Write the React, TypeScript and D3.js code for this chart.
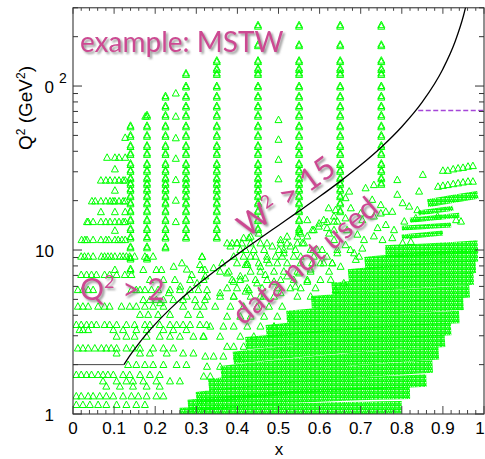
import React from 'react';
import * as d3 from 'd3';

const WIDTH = 485;
const HEIGHT = 459;

// ---- axes ----
const xTickValues = [0, 0.1, 0.2, 0.3, 0.4, 0.5, 0.6, 0.7, 0.8, 0.9, 1];
const xTickLabels = ['0', '0.1', '0.2', '0.3', '0.4', '0.5', '0.6', '0.7', '0.8', '0.9', '1'];
const yMajorTicks = [1, 10, 100];
const yTickLabels = ['1', '10', '0'];
const yTickSup = ['', '', '2'];

// ---- W^2 = 15 cut curve (x, Q^2) ----
const cutX = [0.124, 0.14, 0.16, 0.18, 0.2, 0.25, 0.3, 0.35, 0.4, 0.45, 0.5, 0.55, 0.6, 0.65, 0.7, 0.75, 0.8, 0.85, 0.9, 0.93, 0.95, 0.96];
const cutQ2 = [2.0, 2.3, 2.69, 3.1, 3.53, 4.71, 6.05, 7.6, 9.41, 11.55, 14.12, 17.26, 21.18, 26.22, 32.95, 42.36, 56.48, 80.0, 127.1, 187.6, 268.3, 338.9];
// Q^2 = 2 cut
const q2CutLineX = [0, 0.124];
const q2CutValue = 2;
// purple dashed line
const dashX = [0.84, 1.0];
const dashQ2 = 71;

// ---- fixed-x columns (BCDMS-like) ----
const colX = [0.14, 0.18, 0.225, 0.275, 0.35, 0.45, 0.55, 0.65, 0.75];
const colQmin = [7.5, 8.75, 10.25, 11.75, 11.75, 13.25, 13.25, 17, 25];
const colQmax = [57, 65, 86, 117, 140, 230, 230, 230, 230];
const colQ2Levels = [7.5, 8.75, 10.25, 11.75, 13.25, 15, 17, 19, 21, 23, 25, 27, 30, 33, 38, 42.5, 49, 56, 65, 74, 85, 98, 117, 125, 140, 175, 230];

// sparse columns
const sparse25X = 0.25;
const sparse25Q2 = [90, 65, 48, 36, 26.7, 20, 14.8];
const sparse50X = 0.5;
const sparse50Q2 = [62, 47, 35.5, 27];

// ---- rows of points at fixed Q^2 (low x) ----
const rows: { q: number; xs: number[] }[] = [
  { q: 65, xs: [0.176] },
  { q: 48.3, xs: [0.127] },
  { q: 36.5, xs: [0.083, 0.102, 0.112, 0.127] },
  { q: 31, xs: [0.102] },
  { q: 26.5, xs: [0.068, 0.08, 0.09, 0.102, 0.112, 0.122, 0.127] },
  { q: 23, xs: [0.102] },
  { q: 19.8, xs: [0.046, 0.054, 0.068, 0.08, 0.09, 0.097, 0.102, 0.112, 0.122, 0.127] },
  { q: 17, xs: [0.068, 0.102, 0.127] },
  { q: 14.8, xs: [0.034, 0.037, 0.049, 0.068, 0.08, 0.09, 0.102, 0.112, 0.122, 0.127] },
  { q: 13.1, xs: [0.102] },
  { q: 11.5, xs: [0.021, 0.029, 0.034, 0.049, 0.068, 0.08, 0.087, 0.102, 0.11, 0.119, 0.127] },
  { q: 9.1, xs: [0.02, 0.028, 0.037, 0.049, 0.069, 0.077, 0.085, 0.093, 0.102, 0.114, 0.122, 0.13, 0.138, 0.15, 0.175, 0.195] },
  { q: 8.1, xs: [0.309] },
  { q: 7.55, xs: [0.102, 0.171, 0.203, 0.215, 0.313, 0.321] },
  { q: 7.04, xs: [0.02, 0.033, 0.045, 0.057, 0.077, 0.089, 0.106, 0.126, 0.142] },
  { q: 6.56, xs: [0.187, 0.22, 0.248, 0.285] },
  { q: 5.7, xs: [0.012, 0.024, 0.037, 0.049, 0.142, 0.154, 0.163, 0.175, 0.191, 0.207, 0.236, 0.26, 0.285, 0.305] },
  { q: 4.95, xs: [0.171, 0.187, 0.203, 0.22, 0.244, 0.268, 0.297, 0.321] },
  { q: 4.51, xs: [0.012, 0.024, 0.037, 0.061, 0.077, 0.089, 0.118, 0.138, 0.154, 0.175, 0.195, 0.22, 0.268, 0.301] },
  { q: 4.02, xs: [0.163, 0.183, 0.207, 0.236, 0.28, 0.309] },
  { q: 3.49, xs: [0.008, 0.02, 0.033, 0.045, 0.057, 0.077, 0.089, 0.106, 0.13, 0.15, 0.175, 0.187, 0.211, 0.236, 0.252, 0.268, 0.285, 0.309, 0.325] },
  { q: 3.25, xs: [0.016, 0.024, 0.037, 0.098, 0.122, 0.154, 0.179, 0.22, 0.244, 0.276] },
  { q: 2.96, xs: [0.106, 0.13, 0.15, 0.179, 0.211, 0.236, 0.26, 0.293, 0.317] },
  { q: 2.51, xs: [0.012, 0.024, 0.037, 0.053, 0.069, 0.081, 0.093, 0.106, 0.13, 0.146, 0.163, 0.195, 0.22, 0.244] },
  { q: 2.34, xs: [0.106, 0.163, 0.187, 0.228, 0.268, 0.293] },
  { q: 1.99, xs: [0.134, 0.154, 0.175, 0.195, 0.22, 0.252, 0.276] },
  { q: 1.73, xs: [0.008, 0.02, 0.033, 0.045, 0.061, 0.073, 0.085, 0.098, 0.122, 0.138, 0.163, 0.187, 0.211] },
  { q: 1.58, xs: [0.073, 0.106, 0.13, 0.146, 0.171, 0.203, 0.236, 0.26] },
  { q: 1.47, xs: [0.081, 0.114, 0.146, 0.179, 0.211] },
  { q: 1.28, xs: [0.008, 0.02, 0.037, 0.049, 0.065, 0.081, 0.098, 0.122, 0.142, 0.159, 0.179, 0.203, 0.22] },
  { q: 1.135, xs: [0.008, 0.024, 0.041, 0.061, 0.081, 0.106, 0.13, 0.154, 0.175] },
];

// ---- mid-x cloud rows ----
const cloudRows: { q: number; xs: number[] }[] = [
  { q: 10.98, xs: [0.375, 0.387, 0.399, 0.411, 0.432, 0.456, 0.472, 0.505, 0.521, 0.546, 0.562] },
  { q: 10.0, xs: [0.407, 0.42, 0.44, 0.465, 0.501, 0.513, 0.541, 0.578, 0.594] },
  { q: 9.11, xs: [0.314, 0.391, 0.415, 0.444, 0.472, 0.493, 0.509, 0.554, 0.586, 0.618] },
  { q: 8.3, xs: [0.399, 0.424, 0.452, 0.477, 0.521, 0.554, 0.582, 0.61, 0.631] },
  { q: 7.38, xs: [0.358, 0.379, 0.432, 0.456, 0.489, 0.513, 0.546, 0.578, 0.623] },
  { q: 6.56, xs: [0.318, 0.387, 0.407, 0.444, 0.472, 0.505, 0.537, 0.57, 0.602] },
  { q: 5.84, xs: [0.375, 0.399, 0.424, 0.46, 0.497, 0.529, 0.554, 0.59] },
  { q: 5.19, xs: [0.326, 0.358, 0.391, 0.432, 0.456, 0.489, 0.546, 0.578] },
  { q: 4.51, xs: [0.318, 0.346, 0.383, 0.415, 0.448, 0.477, 0.509] },
  { q: 3.92, xs: [0.375, 0.407, 0.432, 0.465, 0.497, 0.529] },
  { q: 3.41, xs: [0.334, 0.366, 0.391, 0.424, 0.456, 0.489] },
  { q: 2.96, xs: [0.318, 0.358, 0.407, 0.44] },
  { q: 2.57, xs: [0.375, 0.391, 0.415] },
  { q: 2.24, xs: [0.322, 0.342, 0.366, 0.399] },
  { q: 1.94, xs: [0.326, 0.358] },
  { q: 1.69, xs: [0.318, 0.334] },
];

// ---- scattered points ----
const scatterPoints: [number, number][] = [
  [0.314, 9.05], [0.245, 7.9], [0.265, 8.3], [0.277, 7.6], [0.289, 7.04], [0.302, 6.26], [0.322, 6.9], [0.342, 7.75],
  [0.363, 8.3], [0.375, 7.2], [0.391, 6.4], [0.407, 6.9], [0.42, 8.1], [0.383, 10.5], [0.399, 11.0], [0.428, 11.8],
  [0.326, 5.7], [0.358, 5.45], [0.391, 5.2], [0.42, 5.58], [0.261, 5.98], [0.277, 5.2], [0.212, 4.74], [0.233, 5.45],
  [0.851, 28.7], [0.789, 26.7], [0.732, 24.9], [0.712, 23.8], [0.842, 22.7], [0.789, 21.7], [0.672, 22.7], [0.663, 20.7],
  [0.728, 20.2], [0.749, 18.8], [0.761, 17.1], [0.802, 19.3], [0.818, 18.4], [0.838, 17.5], [0.639, 17.5], [0.676, 17.96],
  [0.7, 16.7], [0.635, 14.9], [0.663, 15.6], [0.704, 15.2], [0.732, 16.0], [0.749, 16.7], [0.777, 17.1], [0.761, 14.2],
  [0.741, 13.6], [0.781, 13.2], [0.806, 14.9], [0.834, 15.6], [0.887, 16.0], [0.932, 15.2], [0.944, 14.9], [0.732, 12.1],
  [0.708, 11.5], [0.753, 11.5], [0.777, 11.8], [0.802, 11.0], [0.822, 11.2], [0.643, 10.0], [0.663, 10.7], [0.684, 9.55],
  [0.704, 10.2], [0.631, 8.3], [0.651, 7.9], [0.688, 8.7], [0.627, 6.57], [0.659, 6.26], [0.639, 5.7],
  [0.622, 17.96], [0.61, 15.2], [0.635, 16.0], [0.598, 13.9], [0.582, 13.2], [0.618, 13.6], [0.643, 14.9], [0.57, 12.1],
  [0.55, 12.9], [0.558, 11.0], [0.529, 10.5], [0.505, 11.5], [0.485, 10.5], [0.513, 9.55], [0.537, 9.1], [0.497, 8.3],
  [0.472, 8.7], [0.456, 7.9], [0.432, 9.1], [0.424, 8.1], [0.468, 7.04], [0.448, 6.26], [0.419, 6.7], [0.489, 6.4],
  [0.521, 6.9], [0.55, 7.2], [0.428, 5.7], [0.464, 5.2], [0.505, 5.45], [0.541, 5.98], [0.57, 6.4], [0.578, 7.6],
  [0.602, 8.3], [0.606, 10.0], [0.635, 11.5], [0.667, 13.2], [0.692, 12.4], [0.675, 10.0], [0.696, 9.1], [0.643, 9.55],
  [0.57, 15.2], [0.586, 13.2], [0.599, 14.5], [0.618, 14.8], [0.623, 12.6], [0.635, 13.2], [0.554, 12.6], [0.546, 12.05],
  [0.521, 12.05], [0.432, 12.05], [0.415, 11.8], [0.452, 12.6],
];

// discrete high-x rows
const rowA: [number, number][] = [[0.9, 30.4], [0.912, 30.4], [0.925, 31.0], [0.937, 31.4], [0.949, 31.7], [0.961, 32.2], [0.973, 32.5]];
const rowB: [number, number][] = [[0.888, 24.3], [0.9, 24.6], [0.912, 24.9], [0.925, 25.2], [0.937, 25.5], [0.949, 25.8], [0.961, 26.1], [0.973, 26.1]];

// ---- dense kinematic scans (not used), as (x, Q^2) polylines ----
const denseBands: [number, number][][] = [
  [[0.26, 1.0], [0.5, 1.06], [0.8, 1.1]],
  [[0.28, 1.12], [0.55, 1.28], [0.82, 1.35]],
  [[0.3, 1.25], [0.55, 1.45], [0.86, 1.6]],
  [[0.33, 1.5], [0.6, 1.75], [0.875, 1.95]],
  [[0.36, 1.8], [0.62, 2.1], [0.89, 2.35]],
  [[0.39, 2.2], [0.65, 2.55], [0.905, 2.8]],
  [[0.42, 2.7], [0.68, 3.05], [0.92, 3.3]],
  [[0.47, 3.2], [0.7, 3.6], [0.94, 3.9]],
  [[0.52, 3.9], [0.74, 4.35], [0.95, 4.7]],
  [[0.58, 4.8], [0.77, 5.2], [0.965, 5.6]],
  [[0.63, 5.8], [0.8, 6.3], [0.975, 6.7]],
  [[0.67, 7.0], [0.82, 7.5], [0.98, 7.9]],
  [[0.71, 8.3], [0.85, 8.9], [0.985, 9.3]],
  [[0.76, 9.8], [0.88, 10.1], [0.985, 10.5]],
  [[0.863, 19.3], [0.93, 20.6], [0.985, 21.7]],
];
const thinBands: [number, number][][] = [
  [[0.8, 12.0], [0.9, 12.7]],
  [[0.8, 13.6], [0.92, 14.2]],
  [[0.82, 15.2], [0.94, 16.3]],
  [[0.84, 16.8], [0.925, 18.0]],
];

const x = d3.scaleLinear().domain([0, 1]).range([73, 484]);
const y = d3.scaleLog().domain([1, 300]).range([414, 7.8]);

const GREEN = '#00ff00';
const PINK = '#cc4a92';

function tri(px: number, py: number) {
  return `M${px.toFixed(1)},${(py - 4).toFixed(1)}l3.5,6.5h-7z`;
}

export default function App() {
  const pts: [number, number][] = [];
  rows.forEach((r) => r.xs.forEach((v) => pts.push([v, r.q])));
  cloudRows.forEach((r) => r.xs.forEach((v) => pts.push([v, r.q])));
  scatterPoints.forEach((p) => pts.push(p));
  rowA.forEach((p) => pts.push(p));
  rowB.forEach((p) => pts.push(p));
  sparse25Q2.forEach((q) => pts.push([sparse25X, q]));
  sparse50Q2.forEach((q) => pts.push([sparse50X, q]));

  const colPts: [number, number][] = [];
  colX.forEach((cx, i) => {
    colQ2Levels.forEach((q) => {
      if (q >= colQmin[i] && q <= colQmax[i]) colPts.push([cx, q]);
    });
  });

  let d = '';
  pts.forEach(([a, b]) => (d += tri(x(a), y(b))));
  colPts.forEach(([a, b]) => {
    d += tri(x(a), y(b));
    d += tri(x(a), y(b) - 1.5);
  });

  const bandLine = d3
    .line<[number, number]>()
    .x((p) => x(p[0]))
    .y((p) => y(p[1]))
    .curve(d3.curveMonotoneX);

  const cutLine = d3
    .line<number>()
    .x((v) => x(v))
    .y((_, i) => y(cutQ2[i]))
    .curve(d3.curveMonotoneX);

  const xMinor = d3.range(0, 1.0001, 0.02);
  const yMinor: number[] = [];
  [1, 10, 100].forEach((dec) => {
    for (let k = 2; k <= 9; k++) if (dec * k <= 300) yMinor.push(dec * k);
  });

  const pat: JSX.Element[] = [];
  const SX = 4.2;
  const SY = 4.0;
  [-SX, 0, SX].forEach((ox) =>
    [-SY, 0, SY].forEach((oy) => {
      pat.push(
        <path key={`${ox}_${oy}`} d={tri(SX / 2 + ox, SY / 2 + oy + 0.8)} fill="none" stroke={GREEN} strokeWidth={1} />
      );
    })
  );

  const axisFont = "'Liberation Sans', Arial, sans-serif";
  const pinkFont = "Lato, 'Open Sans', sans-serif";

  return (
    <svg width={WIDTH} height={HEIGHT} style={{ position: 'absolute', left: 0, top: 0, background: '#fff' }}>
      <defs>
        <clipPath id="plot">
          <rect x={73} y={7.8} width={411} height={414 - 7.8} />
        </clipPath>
        <pattern id="tri" patternUnits="userSpaceOnUse" width={SX} height={SY}>
          {pat}
        </pattern>
        <filter id="shadow" x="-10%" y="-20%" width="130%" height="150%">
          <feGaussianBlur in="SourceAlpha" stdDeviation="1.2" />
          <feOffset dx="1.5" dy="1.5" result="b" />
          <feFlood floodColor="#777" floodOpacity="0.75" />
          <feComposite in2="b" operator="in" />
          <feMerge>
            <feMergeNode />
            <feMergeNode in="SourceGraphic" />
          </feMerge>
        </filter>
      </defs>
      <rect x={0} y={0} width={WIDTH} height={HEIGHT} fill="#fff" />

      <g clipPath="url(#plot)">
        {denseBands.map((b, i) => (
          <path key={`db${i}`} d={bandLine(b) || ''} fill="none" stroke="url(#tri)" strokeWidth={i === denseBands.length - 1 ? 8 : 12.5} />
        ))}
        {thinBands.map((b, i) => (
          <path key={`tb${i}`} d={bandLine(b) || ''} fill="none" stroke="url(#tri)" strokeWidth={5} />
        ))}
        <path d={d} fill="none" stroke={GREEN} strokeWidth={1} />
        <path d={cutLine(cutX) || ''} fill="none" stroke="#000" strokeWidth={1.3} />
        <line x1={x(q2CutLineX[0])} x2={x(q2CutLineX[1])} y1={y(q2CutValue)} y2={y(q2CutValue)} stroke="#444" strokeWidth={1} />
        <line x1={x(dashX[0])} x2={x(dashX[1])} y1={y(dashQ2)} y2={y(dashQ2)} stroke="#a546d8" strokeWidth={1.5} strokeDasharray="5,2.5" />
      </g>

      {/* frame */}
      <rect x={73} y={7.8} width={411} height={414 - 7.8} fill="none" stroke="#222" strokeWidth={1} />

      {/* x ticks */}
      {xMinor.map((v, i) => {
        const major = i % 5 === 0;
        const len = major ? 8 : 4;
        return (
          <g key={`xt${i}`} stroke="#444" strokeWidth={1}>
            <line x1={x(v)} x2={x(v)} y1={414} y2={414 - len} />
            <line x1={x(v)} x2={x(v)} y1={7.8} y2={7.8 + (major ? 6 : 3)} />
          </g>
        );
      })}
      {/* y ticks */}
      {yMajorTicks.map((v, i) => (
        <g key={`yM${i}`} stroke="#333" strokeWidth={1}>
          <line x1={73} x2={82} y1={y(v)} y2={y(v)} />
          <line x1={484} x2={475} y1={y(v)} y2={y(v)} />
        </g>
      ))}
      {yMinor.map((v, i) => (
        <g key={`ym${i}`} stroke="#333" strokeWidth={1}>
          <line x1={73} x2={78} y1={y(v)} y2={y(v)} />
          <line x1={484} x2={479} y1={y(v)} y2={y(v)} />
        </g>
      ))}

      {/* x tick labels */}
      {xTickValues.map((v, i) => (
        <text key={`xl${i}`} x={Math.min(x(v), 480)} y={434} textAnchor="middle" fontFamily={axisFont} fontSize={17} fill="#000">
          {xTickLabels[i]}
        </text>
      ))}
      <text x={279} y={455} textAnchor="middle" fontFamily={axisFont} fontSize={17} fill="#000">
        x
      </text>

      {/* y tick labels */}
      {yMajorTicks.map((v, i) => (
        <g key={`yl${i}`}>
          <text x={54} y={y(v) + 7} textAnchor="end" fontFamily={axisFont} fontSize={17} fill="#000">
            {yTickLabels[i]}
          </text>
          {yTickSup[i] ? (
            <text x={59} y={y(v) - 3} fontFamily={axisFont} fontSize={14} fill="#000">
              {yTickSup[i]}
            </text>
          ) : null}
        </g>
      ))}
      <text transform="translate(32,108) rotate(-90)" textAnchor="middle" fontFamily={axisFont} fontSize={19} fill="#000">
        Q<tspan dy={-7} fontSize={12}>2</tspan>
        <tspan dy={7}> (GeV</tspan>
        <tspan dy={-7} fontSize={12}>2</tspan>
        <tspan dy={7}>)</tspan>
      </text>

      {/* annotations */}
      <g filter="url(#shadow)" fill={PINK} fontFamily={pinkFont}>
        <text x={80} y={52} fontSize={28}>example: MSTW</text>
        <text x={80} y={300} fontSize={30}>
          Q<tspan dy={-12} fontSize={18}>2</tspan>
          <tspan dy={12}> &gt; 2</tspan>
        </text>
        <text transform="translate(247,238) rotate(-36)" fontSize={31}>
          W<tspan dy={-12} fontSize={18}>2</tspan>
          <tspan dy={12}> &gt; 15</tspan>
        </text>
        <text transform="translate(243,326) rotate(-40)" fontSize={30}>data not used</text>
      </g>
    </svg>
  );
}
